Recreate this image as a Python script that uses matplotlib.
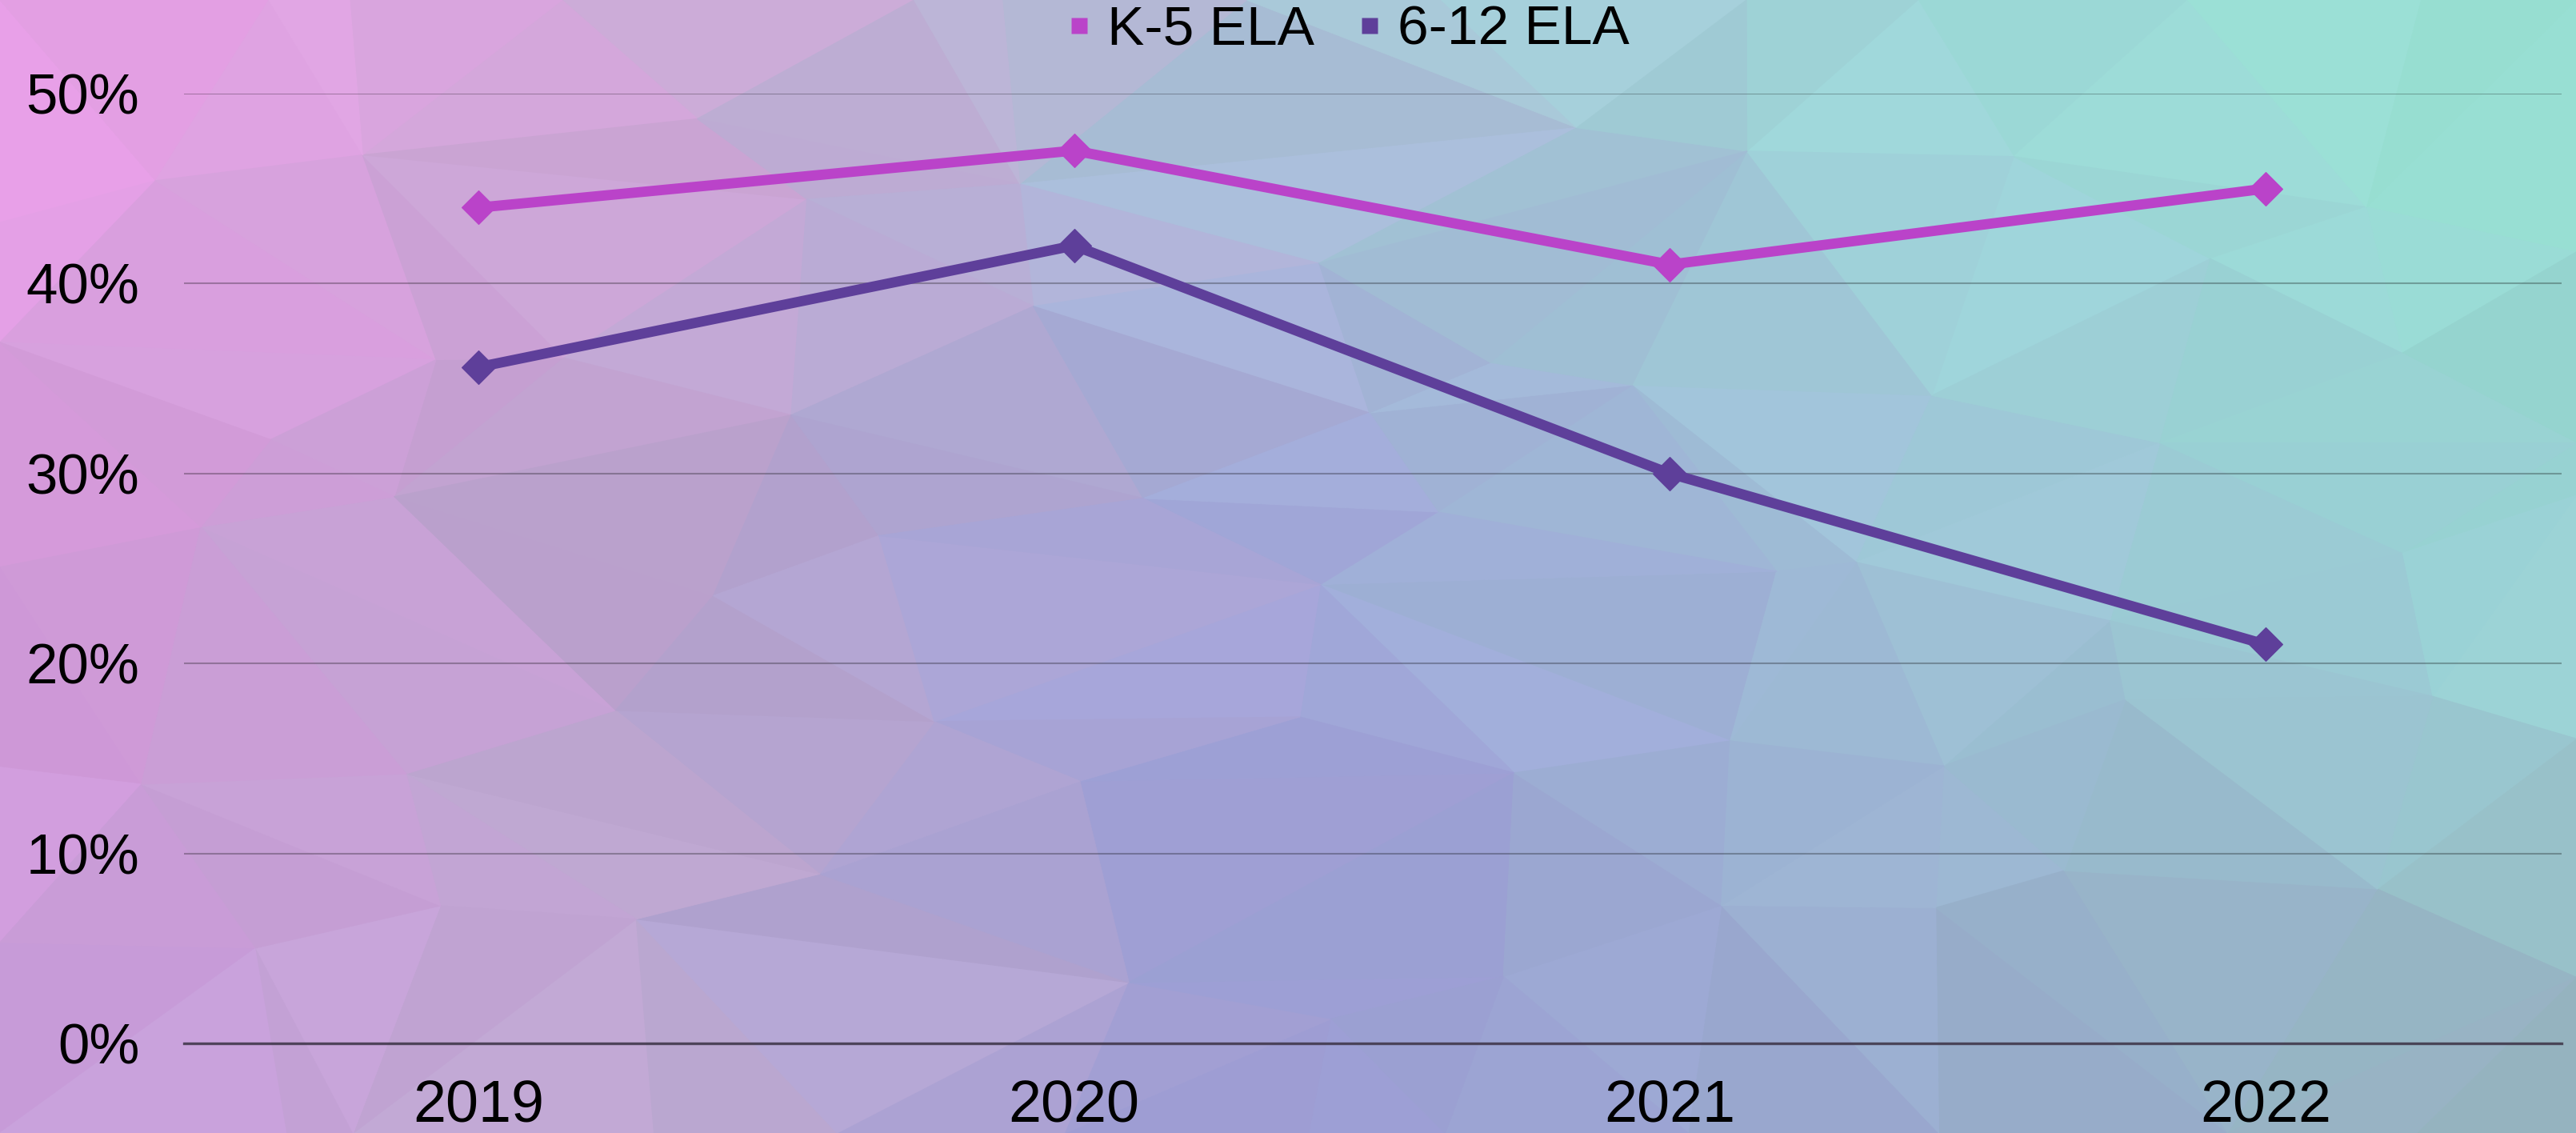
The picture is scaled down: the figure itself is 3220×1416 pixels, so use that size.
import numpy as np
import matplotlib
matplotlib.use("Agg")
import matplotlib.pyplot as plt
from matplotlib.collections import PolyCollection
from matplotlib.path import Path
from matplotlib.lines import Line2D
import matplotlib.tri as mtri
from matplotlib.colors import to_rgb

# ---- data -------------------------------------------------------------
years = ["2019", "2020", "2021", "2022"]
k5_ela = [44, 47, 41, 45]
g612_ela = [35.6, 42, 30, 21]
series_names = ["K-5 ELA", "6-12 ELA"]
y_ticks = [0, 10, 20, 30, 40, 50]

k5_color = "#BA43C9"
g612_color = "#5E3F9A"

plt.rcParams["font.family"] = ["Liberation Sans", "DejaVu Sans"]

W, H = 3220, 1416
fig = plt.figure(figsize=(W / 100, H / 100), dpi=100)

# ---- low-poly gradient backdrop --------------------------------------
bg = fig.add_axes([0, 0, 1, 1], zorder=-10)
bg.set_xlim(0, 1)
bg.set_ylim(0, 1)
bg.axis("off")

# colour anchors, rows from top to bottom, columns left to right
anchor_x = np.array([0.0, 0.25, 0.5, 0.75, 1.0])
anchor_y = np.array([1.0, 0.5, 0.0])
anchor_cols = [
    ["#EEA0EC", "#D2A8D8", "#ACC6D8", "#9CDAD8", "#96E2D0"],
    ["#D89ADC", "#B8A2CC", "#A0A4D8", "#A0C4D8", "#98D4D4"],
    ["#C89CDC", "#C0AAD2", "#9C9CD4", "#98A8CC", "#98B4C0"],
]
anchor_rgb = np.array([[to_rgb(c) for c in row] for row in anchor_cols])


def gradient_at(px, py):
    # bilinear blend between the anchor colours
    out = []
    for ch in range(3):
        rows = [np.interp(px, anchor_x, anchor_rgb[r, :, ch]) for r in range(3)]
        out.append(np.interp(py, anchor_y[::-1], np.array(rows)[::-1]))
    return np.array(out)


def hash01(a, b):
    v = np.sin(a * 12.9898 + b * 78.233) * 43758.5453
    return v - np.floor(v)


nx, ny = 12, 6
pts_x, pts_y = [], []
for j in range(ny + 1):
    for i in range(nx + 1):
        x = i / nx
        y = j / ny
        if 0 < i < nx:
            x += (hash01(i, j) - 0.5) * 0.8 / nx
        if 0 < j < ny:
            y += (hash01(j + 31.0, i + 7.0) - 0.5) * 0.8 / ny
        pts_x.append(x)
        pts_y.append(y)
pts_x = np.array(pts_x)
pts_y = np.array(pts_y)
tri = mtri.Triangulation(pts_x, pts_y)

verts, facecols = [], []
for k, t in enumerate(tri.triangles):
    tx, ty = pts_x[t], pts_y[t]
    cx, cy = tx.mean(), ty.mean()
    base = gradient_at(cx, cy)
    shade = 1.0 + (hash01(cx * 97.0, cy * 53.0) - 0.5) * 0.04
    col = np.clip(base * shade, 0, 1)
    verts.append(np.column_stack([tx, ty]))
    facecols.append(col)

pc = PolyCollection(verts, facecolors=facecols, edgecolors=facecols,
                    linewidths=0.8, antialiased=True)
bg.add_collection(pc)

# ---- chart area ------------------------------------------------------
ax = fig.add_axes([230 / W, 112 / H, (3202 - 230) / W, (1304 - 117) / H])
ax.patch.set_alpha(0)
x = np.arange(len(years))
ax.set_xlim(-0.494, 3.497)
ax.set_ylim(0, 50)

for s in ["top", "right", "left"]:
    ax.spines[s].set_visible(False)
ax.spines["bottom"].set_color("#3E3548")
ax.spines["bottom"].set_linewidth(2.4)
ax.spines["bottom"].set_alpha(0.85)

ax.set_yticks(y_ticks)
ax.set_yticklabels([f"{v}%" for v in y_ticks])
ax.set_xticks(x)
ax.set_xticklabels(years)
ax.tick_params(axis="y", length=0, pad=40, labelsize=51, labelcolor="black")
ax.tick_params(axis="x", length=0, pad=32, labelsize=53, labelcolor="black")
ax.yaxis.grid(True, color="black", alpha=0.28, linewidth=1.5)
ax.set_axisbelow(True)

diamond = Path([(0, 1), (1, 0), (0, -1), (-1, 0), (0, 1)],
               [Path.MOVETO, Path.LINETO, Path.LINETO, Path.LINETO, Path.CLOSEPOLY])

ax.plot(x, k5_ela, color=k5_color, linewidth=9.2, marker=diamond,
        markersize=30, solid_joinstyle="miter", zorder=3, clip_on=False)
ax.plot(x, g612_ela, color=g612_color, linewidth=9.2, marker=diamond,
        markersize=30, solid_joinstyle="miter", zorder=3, clip_on=False)

handles = [
    Line2D([], [], linestyle="none", marker="s", markersize=14,
           markerfacecolor=k5_color, markeredgecolor="none"),
    Line2D([], [], linestyle="none", marker="s", markersize=14,
           markerfacecolor=g612_color, markeredgecolor="none"),
]
fig.legend(handles, series_names, loc="center", ncol=2, frameon=False,
           bbox_to_anchor=(1686 / W, 1 - 38 / H), fontsize=50,
           handlelength=0.4, handletextpad=0.3, columnspacing=0.8,
           borderpad=0, borderaxespad=0)

fig.savefig("out.png", dpi=100)
